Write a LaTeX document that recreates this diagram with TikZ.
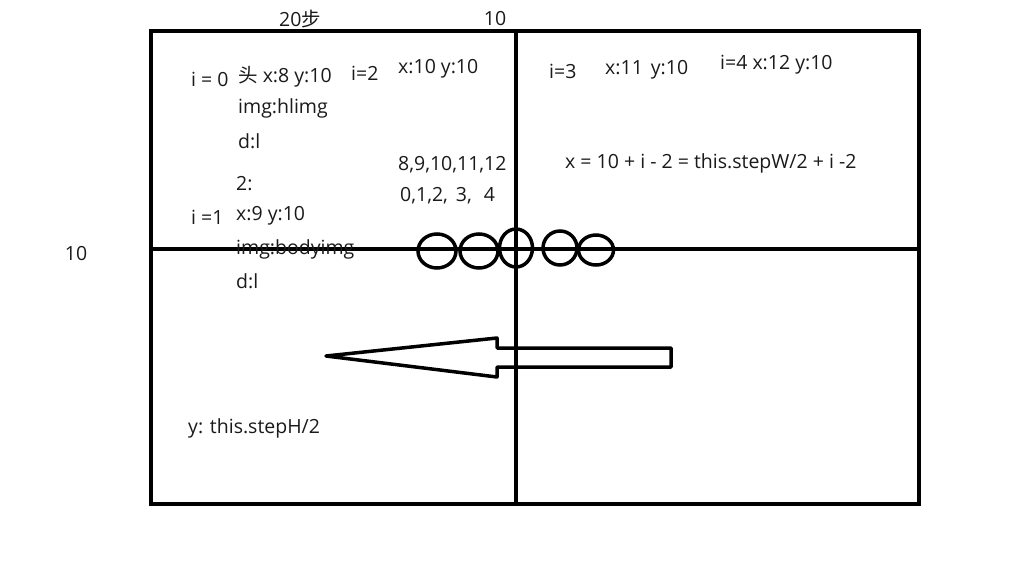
\documentclass[tikz,border=0pt]{standalone}
\usepackage{fontspec}
\setmainfont{Open Sans}
\newfontfamily\cjk{Noto Sans CJK SC}
\usepackage{tikz}
\usetikzlibrary{positioning}
\definecolor{InkBlack}{HTML}{000000}
\definecolor{NoteText}{HTML}{1A1A1A}

\begin{document}
\begin{tikzpicture}[x=1pt,y=-1pt,
  note/.style={anchor=west,inner sep=0pt,text=NoteText,font=\fontsize{19.5}{23}\selectfont},
  stroke/.style={draw=InkBlack,line width=4.5pt}]
\useasboundingbox (0,0) rectangle (1024,576);
% board with its two middle lines
\draw[stroke] (151,31) rectangle (919,504);
\draw[stroke] (516,31) -- (516,504);
\draw[stroke] (151,249) -- (921,249);
% snake body
\draw[stroke,line width=3.5pt] (437,251) ellipse (19 and 17);
\draw[stroke,line width=3.5pt] (479,251) ellipse (19 and 17);
\draw[stroke,line width=3.5pt] (516,248) ellipse (16.5 and 19);
\draw[stroke,line width=3.5pt] (560,248) ellipse (17 and 17);
\draw[stroke,line width=3.5pt] (596,250) ellipse (17.5 and 15);
% direction arrow
\draw[stroke,line width=3.5pt,line join=round]
  (326,356) -- (497,338) -- (497,348) -- (671,348) -- (671,367)
  -- (497,367) -- (497,377) -- cycle;
% labels
\node[note,anchor=center] (steps) at (300,19) {20{\cjk 步}};
\node[note,anchor=center] (midx) at (495,19) {10};
\node[note,anchor=center] (midy) at (76,254) {10};
\node[note] (i0) at (191,79) {i = 0};
\node[note] (head) at (238,77) {{\cjk 头} x:8 y:10};
\node[note] (himg) at (238,108) {img:hlimg};
\node[note] (hdir) at (238,141) {d:l};
\node[note] (i2) at (351,73) {i=2};
\node[note] (pos2) at (398,69) {x:10 y:10};
\node[note] (xs) at (398,165) {8,9,10,11,12};
\node[note] (is) at (400,196) {0,1,2,\hspace{8pt}3,\hspace{12pt}4};
\node[note] (two) at (236,184) {2:};
\node[note] (i1) at (191,217) {i =1};
\node[note] (pos1) at (236,216) {x:9 y:10};
\node[note] (bimg) at (236,249) {img:bodyimg};
\node[note] (bdir) at (236,281) {d:l};
\node[note] (i3) at (549,71) {i=3};
\node[note] (pos3) at (605,70) {x:11\hspace{8pt}y:10};
\node[note] (pos4) at (720,65) {i=4 x:12 y:10};
\node[note] (xrule) at (565,163) {x = 10 + i - 2 = this.stepW/2 + i -2};
\node[note] (yrule) at (188,428) {y: this.stepH/2};
\end{tikzpicture}
\end{document}
